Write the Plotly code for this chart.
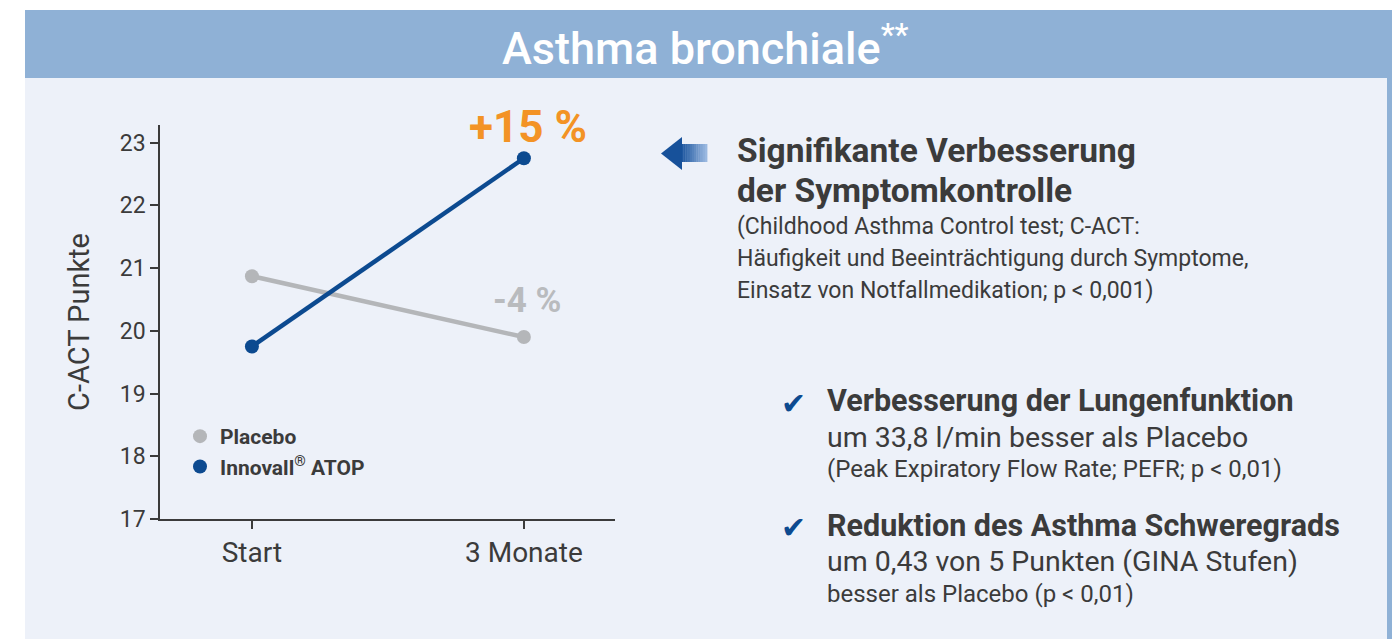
import plotly.graph_objects as go

# ---------------- data ----------------
categories = ["Start", "3 Monate"]
placebo = [20.87, 19.90]
innovall = [19.75, 22.75]
series_names = ["Placebo", "Innovall<sup>®</sup> ATOP"]
y_ticks = [17, 18, 19, 20, 21, 22, 23]
change_labels = ["-4 %", "+15 %"]

W, H = 1392, 639
def px(x):
    return x / W
def py(y):
    return 1 - y / H

GRAY = "#b4b6b9"
BLUE = "#0c4a90"
TXT = "#3b3b3b"
FONT = "Roboto, Noto Sans, DejaVu Sans"

fig = go.Figure()

fig.add_trace(go.Scatter(x=categories, y=placebo, mode="lines+markers",
                         line=dict(color=GRAY, width=4.5),
                         marker=dict(color=GRAY, size=14),
                         showlegend=False, hoverinfo="skip"))
fig.add_trace(go.Scatter(x=categories, y=innovall, mode="lines+markers",
                         line=dict(color=BLUE, width=4.5),
                         marker=dict(color=BLUE, size=14),
                         showlegend=False, hoverinfo="skip"))
# legend entries (dots only)
for name, col, grp in [(series_names[0], GRAY, "a"), (series_names[1], BLUE, "b")]:
    fig.add_trace(go.Scatter(x=[None], y=[None], mode="markers", name=name,
                             legendgroup=grp,
                             marker=dict(color=col, size=14)))

shapes = []
# header band
shapes.append(dict(type="rect", xref="paper", yref="paper",
                   x0=px(25), x1=px(1392), y0=py(78), y1=py(10),
                   fillcolor="#8fb1d6", line=dict(width=0), layer="below"))
# panel
shapes.append(dict(type="rect", xref="paper", yref="paper",
                   x0=px(25), x1=px(1387), y0=py(639), y1=py(78),
                   fillcolor="#edf1f9", line=dict(width=0), layer="below"))
# right strip
shapes.append(dict(type="rect", xref="paper", yref="paper",
                   x0=px(1387), x1=px(1392), y0=py(639), y1=py(78),
                   fillcolor="#8fb1d6", line=dict(width=0), layer="below"))

# arrow (gradient tail imitated with segments)
tail_x0, tail_x1 = 681, 707
n = 12
for i in range(n):
    xa = tail_x0 + (tail_x1 - tail_x0) * i / n
    xb = tail_x0 + (tail_x1 - tail_x0) * (i + 1) / n + 0.4
    t = i / (n - 1)
    r = int(0x1f + (0x9a - 0x1f) * t)
    g = int(0x58 + (0xb8 - 0x58) * t)
    b = int(0xa0 + (0xe0 - 0xa0) * t)
    shapes.append(dict(type="rect", xref="paper", yref="paper",
                       x0=px(xa), x1=px(xb), y0=py(162), y1=py(144),
                       fillcolor=f"rgb({r},{g},{b})", line=dict(width=0)))
head = (f"M {px(661)},{py(153.5)} L {px(682)},{py(137)} "
        f"L {px(682)},{py(170)} Z")
shapes.append(dict(type="path", xref="paper", yref="paper", path=head,
                   fillcolor="#17519a", line=dict(width=0)))

annotations = []
# title
annotations.append(dict(text="Asthma bronchiale<sup>**</sup>",
                        xref="paper", yref="paper", x=px(705), y=py(45),
                        showarrow=False,
                        font=dict(family=FONT, size=45, color="white", weight=500),
                        xanchor="center", yanchor="middle"))
# change labels
annotations.append(dict(text=f"<b>{change_labels[1]}</b>", x=categories[1], y=23.25,
                        xref="x", yref="y", xshift=4, showarrow=False,
                        font=dict(family=FONT, size=44, color="#f39325"),
                        xanchor="center", yanchor="middle"))
annotations.append(dict(text=f"<b>{change_labels[0]}</b>", x=categories[1], y=20.49,
                        xref="x", yref="y", xshift=3, showarrow=False,
                        font=dict(family=FONT, size=35, color="#b9bbbe"),
                        xanchor="center", yanchor="middle"))

def txt(s, x, y, size, bold=False, color=TXT):
    annotations.append(dict(text=(f"<b>{s}</b>" if bold else s),
                            xref="paper", yref="paper", x=px(x), y=py(y),
                            showarrow=False, xanchor="left", yanchor="middle",
                            font=dict(family=FONT, size=size, color=color)))

txt("Signifikante Verbesserung", 735, 150.5, 33.5, True)
txt("der Symptomkontrolle", 735, 190, 33.5, True)
txt("(Childhood Asthma Control test; C-ACT:", 735, 226, 23)
txt("Häufigkeit und Beeinträchtigung durch Symptome,", 735, 258, 23)
txt("Einsatz von Notfallmedikation; p &lt; 0,001)", 735, 290, 23)

txt("✔", 779, 403, 30, False, BLUE)
txt("Verbesserung der Lungenfunktion", 825, 401, 30.5, True)
txt("um 33,8 l/min besser als Placebo", 825, 437, 28.5)
txt("(Peak Expiratory Flow Rate; PEFR; p &lt; 0,01)", 825, 469, 24)

txt("✔", 779, 527, 30, False, BLUE)
txt("Reduktion des Asthma Schweregrads", 825, 525, 30.5, True)
txt("um 0,43 von 5 Punkten (GINA Stufen)", 825, 561, 28.5)
txt("besser als Placebo (p &lt; 0,01)", 825, 594, 24)

fig.update_layout(
    width=W, height=H,
    margin=dict(l=0, r=0, t=0, b=0),
    paper_bgcolor="white",
    plot_bgcolor="rgba(0,0,0,0)",
    shapes=shapes,
    annotations=annotations,
    legend=dict(x=px(180), y=py(416), xanchor="left", yanchor="top",
                bgcolor="rgba(0,0,0,0)", tracegroupgap=0,
                font=dict(family=FONT, size=21, color=TXT, weight="bold"),
                itemwidth=30),
    xaxis=dict(domain=[px(160), px(615)], range=[-0.338, 1.335],
               showline=True, linecolor=TXT, linewidth=1.5,
               ticks="outside", ticklen=8, tickwidth=1.5, tickcolor=TXT,
               showgrid=False, zeroline=False, automargin=False,
               tickfont=dict(family=FONT, size=28, color=TXT)),
    yaxis=dict(domain=[py(519), py(125)], range=[17, 23.28],
               tickvals=y_ticks,
               showline=True, linecolor=TXT, linewidth=1.5,
               ticks="outside", ticklen=8, tickwidth=1.5, tickcolor=TXT,
               showgrid=False, zeroline=False, automargin=False,
               tickfont=dict(family=FONT, size=23, color=TXT),
               title=dict(text="C-ACT Punkte", standoff=22,
                          font=dict(family=FONT, size=29, color=TXT))),
)

fig.write_html(
    "out.html",
    config={"displayModeBar": False},
    post_script=(
        "document.documentElement.style.margin='0px';"
        "document.documentElement.style.padding='0px';"
        "document.documentElement.style.overflow='hidden';"
        "document.body.style.margin='0px';"
        "document.body.style.padding='0px';"
        "document.body.style.overflow='hidden';"
        "document.body.style.height='639px';"
    ),
)
